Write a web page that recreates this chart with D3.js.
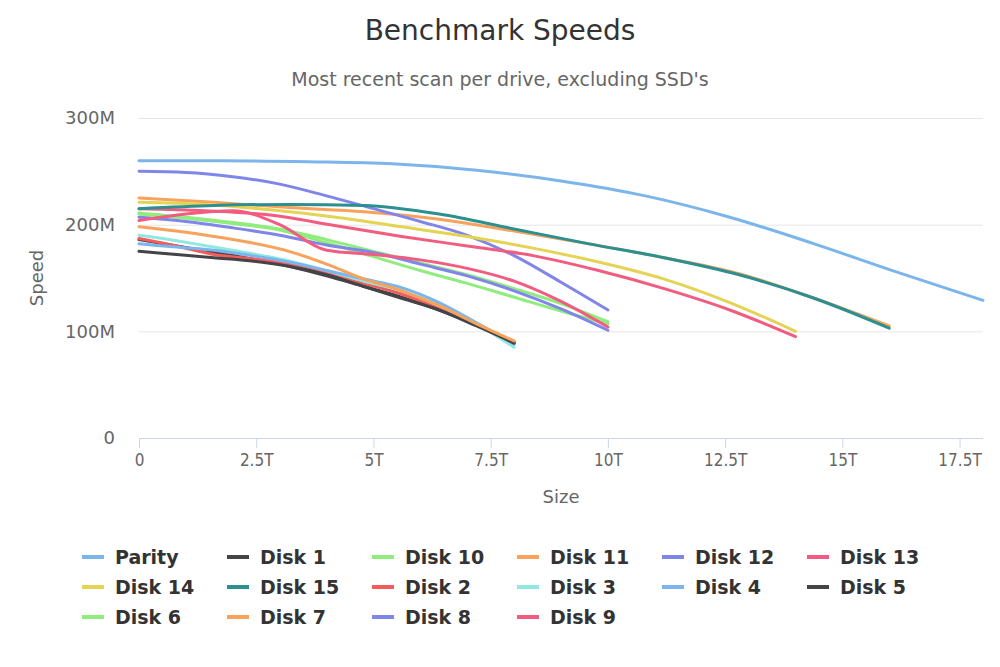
<!DOCTYPE html>
<html>
<head>
<meta charset="utf-8">
<script src="https://cdn.jsdelivr.net/npm/d3@7"></script>
<style>
  body { margin: 0; background: #fff; }
  svg { font-family: 'DejaVu Sans', sans-serif; }
</style>
</head>
<body>
<div id="chart"></div>
<script>
// benchmark points are taken at 0%,10%,...,100% of each drive
const pct = [0, 10, 20, 30, 40, 50, 60, 70, 80, 90, 100];

const seriesNames = ["Parity", "Disk 1", "Disk 10", "Disk 11", "Disk 12", "Disk 13", "Disk 14", "Disk 15",
  "Disk 2", "Disk 3", "Disk 4", "Disk 5", "Disk 6", "Disk 7", "Disk 8", "Disk 9"];
// drive size in T
const driveSizes = [18, 8, 10, 16, 10, 14, 14, 16, 8, 8, 8, 8, 10, 8, 10, 10];
const colors = ["#7cb5ec", "#434348", "#90ed7d", "#f7a35c", "#8085e9", "#f15c80", "#e4d354", "#2b908f",
  "#f45b5b", "#91e8e1", "#7cb5ec", "#434348", "#90ed7d", "#f7a35c", "#8085e9", "#f15c80"];

// speeds in M
const parity = [260, 260, 259, 257, 251, 241, 227, 207, 182, 155, 129];
const disk1  = [186, 180, 174, 168, 161, 152, 142, 132, 120, 106, 90];
const disk10 = [211, 207, 202, 196, 186, 175, 164, 153, 140, 126, 109];
const disk11 = [225, 221, 216, 212, 205, 194, 182, 169, 154, 131, 105];
const disk12 = [250, 249, 245, 238, 227, 215, 203, 190, 171, 146, 120];
const disk13 = [215, 213, 209, 199, 189, 180, 171, 157, 140, 120, 95];
const disk14 = [221, 219, 214, 207, 198, 189, 178, 165, 149, 127, 100];
const disk15 = [215, 218, 219, 218, 210, 196, 182, 169, 153, 131, 103];
const disk2  = [187, 180, 172, 168, 163, 155, 145, 135, 122, 106, 89];
const disk3  = [190, 185, 179, 173, 166, 157, 147, 138, 124, 107, 85];
const disk4  = [182, 179, 176, 171, 165, 157, 149, 141, 127, 108, 88];
const disk5  = [175, 172, 169, 166, 161, 153, 142, 131, 120, 105, 89];
const disk6  = [210, 206, 201, 195, 183, 170, 157, 145, 132, 119, 107];
const disk7  = [198, 194, 189, 183, 175, 163, 149, 138, 124, 107, 91];
const disk8  = [207, 203, 197, 190, 181, 174, 163, 152, 138, 121, 101];
const disk9  = [204, 210, 213, 200, 176, 172, 167, 159, 147, 128, 104];

const speeds = [parity, disk1, disk10, disk11, disk12, disk13, disk14, disk15,
  disk2, disk3, disk4, disk5, disk6, disk7, disk8, disk9];

const xTicks = [0, 2.5, 5, 7.5, 10, 12.5, 15, 17.5];
const yTicks = [0, 100, 200, 300];

const width = 1000, height = 667;
const margin = { top: 118, right: 17, bottom: 229, left: 139 };
const plotW = width - margin.left - margin.right;
const plotH = height - margin.top - margin.bottom;

const svg = d3.select("#chart").append("svg")
  .attr("width", width)
  .attr("height", height);

svg.append("text")
  .attr("x", width / 2).attr("y", 40)
  .attr("text-anchor", "middle")
  .attr("fill", "#333")
  .style("font-size", "28px")
  .text("Benchmark Speeds");

svg.append("text")
  .attr("x", width / 2).attr("y", 86)
  .attr("text-anchor", "middle")
  .attr("fill", "#666")
  .style("font-size", "19px")
  .text("Most recent scan per drive, excluding SSD's");

const g = svg.append("g").attr("transform", `translate(${margin.left},${margin.top})`);

const x = d3.scaleLinear().domain([0, 18]).range([0, plotW]);
const y = d3.scaleLinear().domain([0, 300]).range([plotH, 0]);

// grid lines + y labels
g.append("g")
  .call(d3.axisLeft(y).tickValues(yTicks).tickSize(-plotW).tickFormat(d => d === 0 ? "0" : d + "M"))
  .call(a => a.select(".domain").remove())
  .call(a => a.selectAll(".tick line").attr("stroke", "#e6e6e6"))
  .call(a => a.selectAll(".tick text")
    .attr("x", -24).attr("fill", "#666")
    .style("font-size", "18px").style("font-family", "'DejaVu Sans', sans-serif"));

// x axis
g.append("g")
  .attr("transform", `translate(0,${plotH})`)
  .call(d3.axisBottom(x).tickValues(xTicks).tickSize(10).tickFormat(d => d === 0 ? "0" : d + "T"))
  .call(a => a.select(".domain").attr("stroke", "#ccd6eb").attr("d", `M0.5,0.5H${plotW}`))
  .call(a => a.selectAll(".tick line").attr("stroke", "#ccd6eb"))
  .call(a => a.selectAll(".tick text")
    .attr("y", 16).attr("fill", "#666")
    .style("font-size", "17px").style("font-family", "'DejaVu Sans Condensed', 'DejaVu Sans', sans-serif"));

svg.append("text")
  .attr("transform", `translate(43,${margin.top + plotH / 2}) rotate(-90)`)
  .attr("text-anchor", "middle")
  .attr("fill", "#666")
  .style("font-size", "18px")
  .text("Speed");

svg.append("text")
  .attr("x", margin.left + plotW / 2).attr("y", 503)
  .attr("text-anchor", "middle")
  .attr("fill", "#666")
  .style("font-size", "18px")
  .text("Size");

// lines
const line = d3.line()
  .x(d => x(d[0]))
  .y(d => y(d[1]))
  .curve(d3.curveMonotoneX);

const plot = g.append("g");
seriesNames.forEach((name, i) => {
  const pts = pct.map((p, j) => [driveSizes[i] * p / 100, speeds[i][j]]);
  plot.append("path")
    .attr("d", line(pts))
    .attr("fill", "none")
    .attr("stroke", colors[i])
    .attr("stroke-width", 3)
    .attr("stroke-linejoin", "round")
    .attr("stroke-linecap", "round");
});

// legend
const legend = svg.append("g").attr("transform", "translate(82,557)");
const items = legend.selectAll(".legend-item")
  .data(seriesNames)
  .enter().append("g")
  .attr("class", "legend-item")
  .attr("transform", (d, i) => `translate(${(i % 6) * 145},${Math.floor(i / 6) * 30})`);

items.append("line")
  .attr("x1", 0).attr("x2", 22)
  .attr("stroke", (d, i) => colors[i])
  .attr("stroke-width", 4);

items.append("text")
  .attr("x", 33).attr("y", 7)
  .attr("fill", "#333")
  .style("font-size", "19px")
  .style("font-weight", "bold")
  .text(d => d);
</script>
</body>
</html>
